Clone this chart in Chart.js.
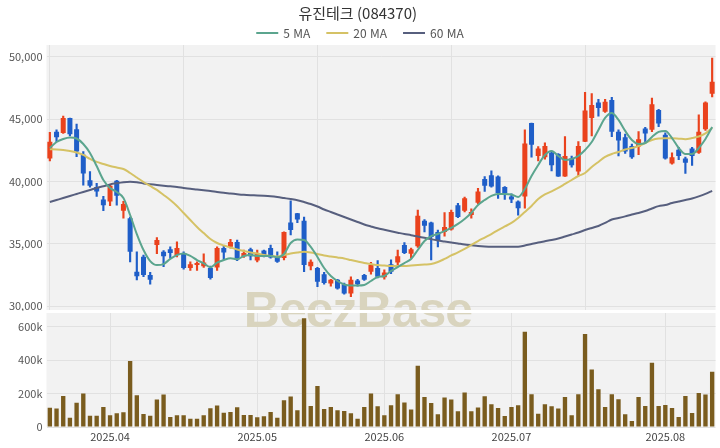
<!DOCTYPE html>
<html lang="ko">
<head>
<meta charset="utf-8">
<title>유진테크 (084370)</title>
<script src="https://cdn.jsdelivr.net/npm/chart.js@4.4.1/dist/chart.umd.min.js"></script>
<style>
  html, body { margin: 0; padding: 0; background: #fff; }
  #wrap { position: relative; width: 720px; height: 448px; }
  #priceChart { position: absolute; left: 0; top: 0; }
  #volChart { position: absolute; left: 0; top: 311px; }
</style>
</head>
<body>
<div id="wrap">
  <canvas id="priceChart" width="720" height="311"></canvas>
  <canvas id="volChart" width="720" height="137"></canvas>
</div>
<script>
// trading days shown on the chart
const dates = [
  '2025.03.19','2025.03.20','2025.03.21','2025.03.24','2025.03.25','2025.03.26','2025.03.27','2025.03.28','2025.03.31',
  '2025.04.01','2025.04.02','2025.04.03','2025.04.04','2025.04.07','2025.04.08','2025.04.09','2025.04.10','2025.04.11',
  '2025.04.14','2025.04.15','2025.04.16','2025.04.17','2025.04.18','2025.04.21','2025.04.22','2025.04.23','2025.04.24',
  '2025.04.25','2025.04.28','2025.04.29','2025.04.30',
  '2025.05.02','2025.05.07','2025.05.08','2025.05.09','2025.05.12','2025.05.13','2025.05.14','2025.05.15','2025.05.16',
  '2025.05.19','2025.05.20','2025.05.21','2025.05.22','2025.05.23','2025.05.26','2025.05.27','2025.05.28','2025.05.29',
  '2025.05.30',
  '2025.06.02','2025.06.04','2025.06.05','2025.06.09','2025.06.10','2025.06.11','2025.06.12','2025.06.13','2025.06.16',
  '2025.06.17','2025.06.18','2025.06.19','2025.06.20','2025.06.23','2025.06.24','2025.06.25','2025.06.26','2025.06.27',
  '2025.06.30',
  '2025.07.01','2025.07.02','2025.07.03','2025.07.04','2025.07.07','2025.07.08','2025.07.09','2025.07.10','2025.07.11',
  '2025.07.14','2025.07.15','2025.07.16','2025.07.17','2025.07.18','2025.07.21','2025.07.22','2025.07.23','2025.07.24',
  '2025.07.25','2025.07.28','2025.07.29','2025.07.30','2025.07.31',
  '2025.08.01','2025.08.04','2025.08.05','2025.08.06','2025.08.07','2025.08.08','2025.08.11','2025.08.12'
];

const open = [
  41850,44000,43900,45100,44200,42150,40100,39550,38550,38400,
  40050,37650,37050,32750,33950,32500,34900,34350,34550,34100,
  34250,33050,33300,33200,33050,33100,34650,34750,35150,34000,
  34550,33650,34450,34650,33900,33850,36700,37450,36850,33200,
  33050,32550,31800,32100,31750,31000,32050,32500,32750,33050,
  32300,33350,33500,34900,34200,34800,36850,36700,35950,35950,
  36150,38100,37650,37300,38300,40200,40500,40400,39550,38800,
  38400,38800,44700,42050,41950,42300,42200,40400,41850,40800,
  43200,45100,46350,45600,46550,44000,43550,42850,42800,44250,
  44150,45750,43750,41450,42550,41850,42650,42300,44200,47050
];
const high = [
  43950,44150,45250,45100,44600,42400,40800,39850,38800,39700,
  40100,38400,37150,34350,34100,32700,35500,34450,34750,35150,
  34350,33550,33550,34200,33200,34750,34800,35350,35300,34500,
  34650,34500,34500,34900,34350,35950,38450,37450,37150,33700,
  33100,32700,32150,32150,31850,32350,32150,32550,33500,33650,
  32900,33700,34500,35100,34650,37700,36950,36750,36100,37500,
  37700,38250,38750,37800,39450,40400,40850,40450,39600,39000,
  38450,44150,44700,42800,43100,42450,42250,43600,42050,43200,
  47150,47050,46600,46600,46750,44150,43800,43000,44000,44350,
  46700,45800,43900,42300,42750,41950,42750,45350,46400,49900
];
const low = [
  41650,43200,43850,43650,42000,39700,39550,38800,37650,38050,
  38100,37050,33550,32100,32350,31750,34200,33150,33850,33950,
  32950,32850,32850,33100,32150,32850,33700,34650,33650,33900,
  33700,33550,33950,33850,33500,33700,35700,36700,32750,32900,
  31550,31750,31600,31350,30950,30750,31600,32050,32550,32250,
  32150,32600,33150,34200,33850,34700,35950,33700,34750,35600,
  36100,37100,37550,37050,38200,39200,39550,38650,38550,38300,
  37300,37850,41950,41650,41800,40850,40400,40400,41150,40450,
  43200,43650,45250,45550,43600,42050,42250,41850,42150,43200,
  44000,44400,41800,41400,41750,40650,41300,42250,44100,46800
];
const close = [
  43200,43550,45100,43800,42400,40650,39650,39200,38100,39650,
  38850,38200,34350,32400,32500,32100,35300,34000,34250,34650,
  33050,33350,33450,33500,32250,34650,34300,35150,33750,34250,
  34000,34200,34100,33900,33550,35950,36100,36950,33300,33550,
  31950,31850,32100,31400,31000,32100,31750,32100,33300,32350,
  32700,32750,34000,34250,34550,37250,36450,35550,35300,36350,
  37550,37150,38650,37550,39200,39650,39600,39050,39050,38550,
  37850,43050,42950,42650,42850,41300,40400,42050,41300,42850,
  45700,46150,45900,46400,44000,43300,42400,41950,43400,43850,
  46200,44650,41850,41950,42050,41500,42050,44000,46350,48000
];
const volume = [
  115000,110000,185000,55000,145000,200000,68000,68000,120000,70000,
  82000,88000,395000,190000,78000,68000,165000,195000,60000,70000,
  70000,50000,50000,70000,112000,128000,85000,90000,118000,72000,
  72000,58000,65000,90000,55000,160000,182000,100000,650000,125000,
  245000,108000,120000,100000,95000,82000,50000,120000,200000,124000,
  70000,130000,196000,146000,104000,366000,180000,144000,76000,176000,
  164000,94000,206000,94000,116000,184000,136000,114000,66000,120000,
  130000,570000,196000,80000,136000,124000,110000,180000,70000,196000,
  556000,344000,226000,120000,196000,166000,76000,36000,180000,126000,
  384000,126000,132000,114000,60000,186000,84000,204000,194000,330000
];
const ma5 = [
  42690,43170,43410,43530,43450,43010,42290,41240,40120,39480,
  39160,38670,37310,35780,34500,33610,33290,33370,33780,34100,
  34220,34020,33690,33430,33110,33480,33690,33830,33750,34020,
  34100,34020,34020,34020,33910,34180,35060,35340,35300,34740,
  33940,33050,32410,32010,31730,31650,31650,31690,32010,32330,
  32410,32810,33130,33450,33780,34500,35220,35620,35780,36020,
  36270,36590,36990,37470,38110,38510,38840,39000,39000,38960,
  38750,39400,40440,41330,42130,42450,42050,41730,41810,42050,
  42530,43170,44140,45100,45500,44940,44060,43330,43010,43090,
  43570,43980,44060,43490,42690,42210,42210,42690,43410,44380
];
const ma20 = [
  42590,42570,42530,42450,42330,42130,41810,41570,41410,41240,
  41120,41000,40680,40320,39960,39640,39320,38920,38510,38030,
  37470,36910,36350,35860,35380,35060,34860,34700,34540,34420,
  34300,34220,34100,34020,33980,34100,34220,34300,34360,34300,
  34180,34060,33980,33900,33820,33690,33570,33450,33370,33290,
  33250,33210,33210,33210,33250,33290,33330,33370,33530,33780,
  34060,34300,34580,34900,35220,35500,35780,36100,36390,36670,
  37070,37550,38030,38590,38960,39200,39480,39800,40120,40440,
  40680,41160,41570,41970,42210,42370,42570,42690,42850,43090,
  43330,43450,43470,43470,43440,43400,43490,43610,43860,44300
];
const ma60 = [
  38350,38510,38670,38840,39000,39160,39320,39480,39610,39760,
  39860,39940,39980,39940,39840,39780,39720,39660,39610,39560,
  39480,39410,39360,39300,39240,39160,39090,39040,38980,38930,
  38900,38880,38850,38810,38750,38670,38590,38500,38350,38190,
  37990,37750,37550,37350,37150,36950,36750,36550,36390,36240,
  36120,36000,35890,35780,35690,35580,35480,35370,35260,35180,
  35100,35020,34940,34880,34820,34780,34760,34760,34760,34760,
  34760,34860,34980,35100,35200,35300,35420,35580,35740,35900,
  36100,36270,36430,36670,36950,37070,37200,37350,37470,37630,
  37830,38020,38110,38270,38390,38510,38630,38800,39000,39240
];

// axis ticks
const priceTicks = [30000, 35000, 40000, 45000, 50000];
const volumeTicks = [0, 200000, 400000, 600000];

const UP = '#ea421d';
const DOWN = '#1f5ec8';
const GRID = '#e1e1e1';
const FONT = "'Noto Sans CJK KR', 'Noto Sans', sans-serif";

Chart.defaults.font.family = FONT;
Chart.defaults.font.size = 11;
Chart.defaults.color = '#555';

// candle pieces as floating bars
const bodies = open.map((o, i) => [Math.min(o, close[i]), Math.max(o, close[i])]);
const wicks = low.map((l, i) => [l, high[i]]);
const candleColors = open.map((o, i) => close[i] >= o ? UP : DOWN);

// first trading day of each month (except the partial first month)
const monthStarts = dates.map((d, i) => i > 0 && d.slice(0, 7) !== dates[i - 1].slice(0, 7) ? i : -1)
  .filter(i => i >= 0);

const plotBg = {
  id: 'plotBg',
  beforeDraw(chart) {
    const { ctx, chartArea: a } = chart;
    ctx.save();
    ctx.fillStyle = '#f2f2f2';
    ctx.fillRect(a.left, a.top, a.right - a.left, a.bottom - a.top);
    ctx.restore();
  }
};

const watermark = {
  id: 'watermark',
  beforeDatasetsDraw(chart, args, opts) {
    const { ctx, chartArea: a } = chart;
    ctx.save();
    ctx.beginPath();
    ctx.rect(a.left, a.top, a.right - a.left, a.bottom - a.top);
    ctx.clip();
    ctx.font = "bold 50px 'Liberation Sans', Arial, sans-serif";
    ctx.letterSpacing = '-1px';
    ctx.fillStyle = '#d9d4be';
    ctx.textAlign = 'center';
    ctx.textBaseline = 'alphabetic';
    ctx.fillText('BeezBase', 358, 327 - opts.offsetY);
    ctx.restore();
  }
};

// MA legend: short line + label, centred under the title
const lineLegend = {
  id: 'lineLegend',
  afterDraw(chart, args, opts) {
    const { ctx } = chart;
    const items = chart.data.datasets.filter(d => d.type === 'line');
    ctx.save();
    ctx.font = '12px ' + FONT;
    const sw = 22, gapText = 5, gapItem = 16;
    const widths = items.map(d => sw + gapText + ctx.measureText(d.label).width);
    const total = widths.reduce((a, b) => a + b, 0) + gapItem * (items.length - 1);
    let x = opts.centerX - total / 2;
    items.forEach((d, i) => {
      ctx.strokeStyle = d.borderColor;
      ctx.lineWidth = 2;
      ctx.beginPath();
      ctx.moveTo(x, opts.y);
      ctx.lineTo(x + sw, opts.y);
      ctx.stroke();
      ctx.fillStyle = '#555';
      ctx.textAlign = 'left';
      ctx.textBaseline = 'middle';
      ctx.fillText(d.label, x + sw + gapText, opts.y);
      x += widths[i] + gapItem;
    });
    ctx.restore();
  }
};

// same y-axis width on both panels, no extra room for edge labels
const fixedY = scale => {
  scale.width = 46.5;
  scale.paddingTop = 0;
  scale.paddingBottom = 0;
};
const useTicks = values => scale => { scale.ticks = values.map(v => ({ value: v })); };

const priceChart = new Chart(document.getElementById('priceChart'), {
  data: {
    labels: dates,
    datasets: [
      { type: 'line', label: '5 MA', data: ma5, borderColor: '#5ba58e', backgroundColor: '#5ba58e',
        borderWidth: 2, pointRadius: 0, cubicInterpolationMode: 'monotone', order: 0 },
      { type: 'line', label: '20 MA', data: ma20, borderColor: '#d5c265', backgroundColor: '#d5c265',
        borderWidth: 2, pointRadius: 0, cubicInterpolationMode: 'monotone', order: 0 },
      { type: 'line', label: '60 MA', data: ma60, borderColor: '#575f7e', backgroundColor: '#575f7e',
        borderWidth: 2, pointRadius: 0, cubicInterpolationMode: 'monotone', order: 0 },
      { type: 'bar', label: 'wick', data: wicks, backgroundColor: candleColors,
        barThickness: 1.5, grouped: false, order: 2 },
      { type: 'bar', label: 'body', data: bodies, backgroundColor: candleColors,
        barPercentage: 0.75, categoryPercentage: 1, grouped: false, minBarLength: 1, order: 1 }
    ]
  },
  options: {
    responsive: false,
    animation: false,
    events: [],
    layout: { padding: { top: 0, right: 4.5, bottom: 1, left: 0 } },
    plugins: {
      title: {
        display: true,
        text: '유진테크 (084370)',
        color: '#333',
        font: { size: 15, weight: 'normal', family: FONT },
        padding: { top: 4, bottom: 23 }
      },
      legend: { display: false },
      lineLegend: { centerX: 360, y: 33 },
      tooltip: { enabled: false },
      watermark: { offsetY: 0 }
    },
    scales: {
      x: {
        type: 'category',
        offset: true,
        ticks: { display: false, autoSkip: false },
        grid: { offset: false, drawTicks: false, color: c => c.index % 20 === 0 ? GRID : 'transparent' },
        border: { display: false },
        afterFit: scale => { scale.height = 0; }
      },
      y: {
        min: 29680,
        max: 50960,
        afterBuildTicks: useTicks(priceTicks),
        ticks: { padding: 4, callback: v => v.toLocaleString('en-US') },
        grid: { color: GRID, drawTicks: false },
        border: { display: false },
        afterFit: fixedY
      }
    }
  },
  plugins: [plotBg, watermark, lineLegend]
});

const volChart = new Chart(document.getElementById('volChart'), {
  type: 'bar',
  data: {
    labels: dates,
    datasets: [{
      label: '거래량',
      data: volume,
      backgroundColor: '#7a5c1e',
      barPercentage: 0.65,
      categoryPercentage: 1
    }]
  },
  options: {
    responsive: false,
    animation: false,
    events: [],
    layout: { padding: { top: 2, right: 4.5, bottom: 0, left: 0 } },
    plugins: {
      legend: { display: false },
      tooltip: { enabled: false },
      watermark: { offsetY: 311 }
    },
    scales: {
      x: {
        offset: true,
        ticks: {
          autoSkip: false,
          maxRotation: 0,
          padding: 3,
          color: '#444',
          font: { size: 11 },
          callback: (v, i) => monthStarts.includes(i) ? dates[i].slice(0, 7) : ''
        },
        grid: { offset: false, drawTicks: false, color: c => monthStarts.includes(c.index) ? GRID : 'transparent' },
        border: { display: false },
        afterFit: scale => { scale.height = 21; }
      },
      y: {
        min: 0,
        max: 682000,
        afterBuildTicks: useTicks(volumeTicks),
        ticks: { padding: 4, callback: v => v === 0 ? '0' : (v / 1000) + 'k' },
        grid: { color: GRID, drawTicks: false },
        border: { display: false },
        afterFit: fixedY
      }
    }
  },
  plugins: [plotBg, watermark]
});
</script>
</body>
</html>
